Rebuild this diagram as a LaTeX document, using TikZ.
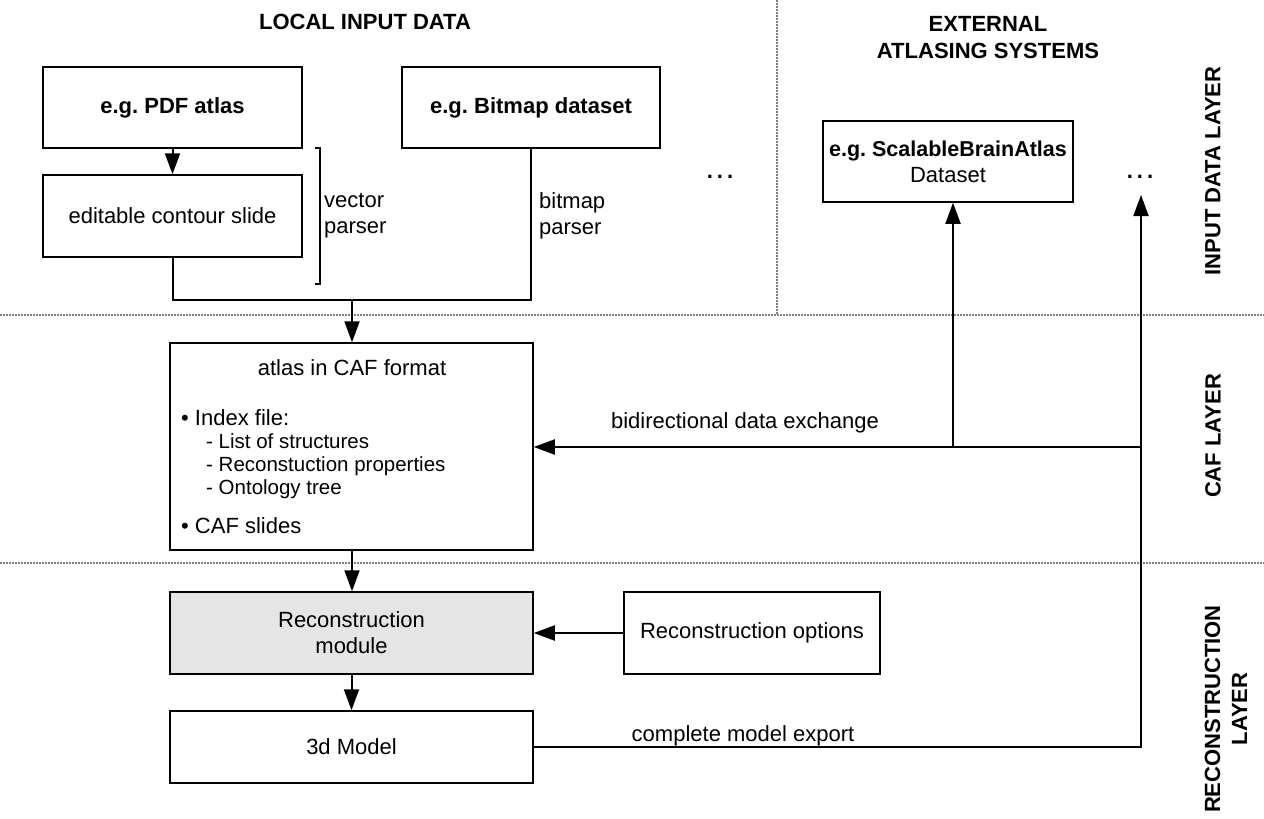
\documentclass[tikz,border=0pt]{standalone}
\usepackage{fontspec}
\setmainfont{Liberation Sans}
\usetikzlibrary{arrows.meta}
\frenchspacing
\begin{document}
\begin{tikzpicture}[x=1pt,y=-1pt,
  box/.style={draw, line width=1.5pt, rectangle, inner sep=0pt, font=\fontsize{22}{26}\selectfont, align=center},
  conn/.style={line width=2pt},
  arr/.style={conn, -{Triangle[length=21pt,width=15pt]}},
  sep/.style={draw=black!50, line width=2pt, dash pattern=on 2pt off 1pt},
  lbl/.style={font=\fontsize{22}{26}\selectfont, inner sep=0pt},
  sub/.style={font=\fontsize{20.5}{23}\selectfont, inner sep=0pt, align=left},
  head/.style={font=\fontsize{22}{27}\selectfont\bfseries, align=center, inner sep=0pt},
]
\useasboundingbox (0,0) rectangle (1264,819);

% separators
\draw[sep] (777,0) -- (777,315);
\draw[sep] (0,315) -- (1264,315);
\draw[sep] (0,563) -- (1264,563);

% headings
\node[head] (hlocal) at (365,22) {LOCAL INPUT DATA};
\node[head] (hext) at (988,38) {EXTERNAL\\ATLASING SYSTEMS};
\node[head, rotate=90] (linput) at (1213,171) {INPUT DATA LAYER};
\node[head, rotate=90] (lcaf) at (1213,436) {CAF LAYER};
\node[head, rotate=90] (lrec) at (1226,709) {RECONSTRUCTION\\LAYER};

% boxes
\node[box, minimum width=259pt, minimum height=81pt] (pdf) at (172.5,107.5) {\bfseries e.g. PDF atlas};
\node[box, minimum width=259pt, minimum height=82pt] (contour) at (172.5,216) {editable contour slide};
\node[box, minimum width=258pt, minimum height=81pt] (bitmap) at (531,107.5) {\bfseries e.g. Bitmap dataset};
\node[box, minimum width=250pt, minimum height=81pt] (sba) at (948,161.5) {{\fontsize{21.5}{25}\selectfont\bfseries e.g. ScalableBrainAtlas}\\Dataset};
\node[box, minimum width=363pt, minimum height=207pt] (caf) at (351.5,446.5) {};
\node[box, minimum width=363pt, minimum height=82pt, fill=gray!20] (recon) at (351.5,633) {Reconstruction\\module};
\node[box, minimum width=256pt, minimum height=82pt] (options) at (752,633) {Reconstruction options};
\node[box, minimum width=363pt, minimum height=72pt] (model) at (351.5,747) {3d Model};

% CAF box content
\node[lbl] (caftitle) at (352,368) {atlas in CAF format};
\node[lbl, anchor=west] (idx) at (181,418) {• Index file:};
\node[sub, anchor=west] (idxsub) at (206,466) {- List of structures\\- Reconstuction properties\\- Ontology tree};
\node[lbl, anchor=west] (slides) at (181,526) {• CAF slides};

% parser labels and bracket
\draw[line width=1.2pt] (315,148) -- (320,148) -- (320,284) -- (315,284);
\node[lbl, anchor=west, align=left] (vp) at (324,216) {vector\\parser};
\node[lbl, anchor=west, align=left] (bp) at (539,216) {bitmap\\parser};

% dots
\node[lbl, font=\fontsize{22}{26}\selectfont\bfseries] (dots1) at (720,177) {.\hspace{4pt}.\hspace{4pt}.};
\node[lbl, font=\fontsize{22}{26}\selectfont\bfseries] (dots2) at (1140,177) {.\hspace{4pt}.\hspace{4pt}.};

% connectors
\draw[arr] (pdf) -- (contour);
\coordinate (merge) at (352,300);
\draw[conn] (contour.south) |- (merge) -| (bitmap.south);
\draw[arr] (merge) -- (merge |- caf.north);
\draw[arr] (caf.south -| merge) -- (recon.north -| merge);
\draw[arr] (recon) -- (model);
\draw[arr] (options) -- (recon);

\coordinate (jR) at (1141,447);
\coordinate (tipR) at (1141,195);
\coordinate (jS) at (953,447);
\draw[arr] (model.east) -| (tipR);
\draw[arr] (jR) -- (jR -| caf.east);
\draw[arr] (jS) -- (jS |- sba.south);

\node[lbl] (bidir) at (745,423) {bidirectional data exchange};
\node[lbl] (export) at (743,736) {complete model export};
\end{tikzpicture}
\end{document}
